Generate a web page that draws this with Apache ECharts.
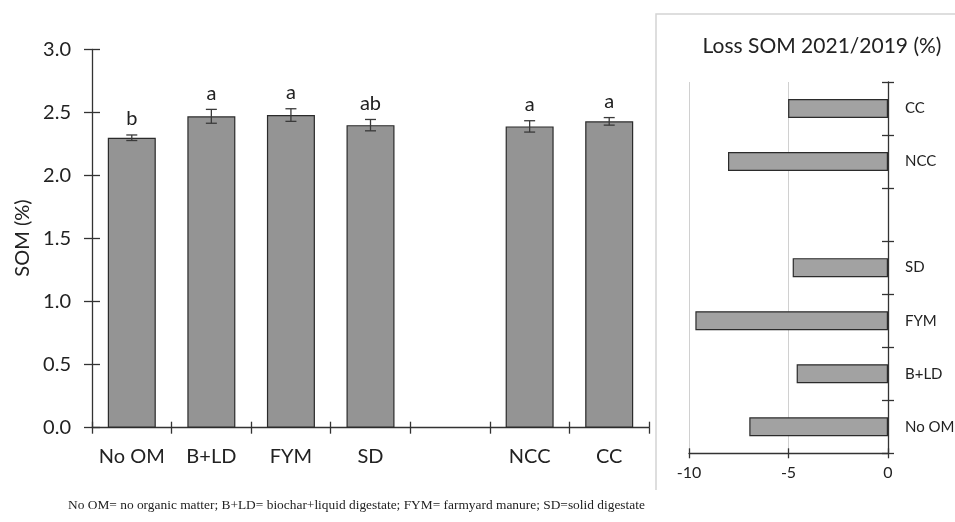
<!DOCTYPE html>
<html><head><meta charset="utf-8">
<script src="https://cdn.jsdelivr.net/npm/echarts@6/dist/echarts.min.js"></script>
<style>html,body{margin:0;padding:0;background:#fff}#c{width:955px;height:522px}</style>
</head><body><div id="c"></div>
<script>
var categories = ['No OM', 'B+LD', 'FYM', 'SD', '', 'NCC', 'CC'];
var somValues = [2.30, 2.47, 2.48, 2.40, null, 2.39, 2.43];
var somErrors = [0.022, 0.055, 0.05, 0.045, null, 0.045, 0.03];
var letters = ['b', 'a', 'a', 'ab', '', 'a', 'a'];
var somTicks = [0, 0.5, 1.0, 1.5, 2.0, 2.5, 3.0];
var lossCategories = ['No OM', 'B+LD', 'FYM', 'SD', '', 'NCC', 'CC'];
var lossValues = [-6.97, -4.59, -9.68, -4.79, null, -8.04, -5.02];
var lossTicks = [-10, -5, 0];

var F = 'Lato, "Open Sans", sans-serif';
var axisCol = '#333';
var chart = echarts.init(document.getElementById('c'), null, {renderer: 'canvas'});

var errData = categories.map(function (c, i) {
  return somValues[i] == null ? null : [i, somValues[i], somErrors[i], letters[i]];
}).filter(function (d) { return d; });

var tickStyle = {color: axisCol, width: 1.3};
var g0 = {left: 92, top: 49.5, width: 557, height: 378.2, outerBoundsMode: 'none', containLabel: false};
var g1 = {left: 689, top: 82, width: 199, height: 371.3, outerBoundsMode: 'none', containLabel: false};

chart.setOption({
  animation: false,
  grid: [g0, g1, Object.assign({}, g0), Object.assign({}, g1)],
  title: {
    text: 'Loss SOM 2021/2019 (%)', left: 817, top: 31, textAlign: 'center',
    textStyle: {fontFamily: F, fontSize: 21, fontWeight: 'normal', color: '#222'}
  },
  graphic: [
    {type: 'polyline', shape: {points: [[656, 490], [656, 14], [960, 14]]},
     style: {stroke: '#d4d4d4', lineWidth: 1.5, fill: null}},
    {type: 'text', rotation: Math.PI / 2, x: 22.5, y: 238,
     style: {text: 'SOM (%)', font: '20px ' + F, fill: '#222', align: 'center', verticalAlign: 'middle'}},
    {type: 'text', x: 68, y: 499,
     style: {text: 'No OM= no organic matter; B+LD= biochar+liquid digestate; FYM= farmyard manure; SD=solid digestate',
       font: '13.4px "Liberation Serif", "Times New Roman", serif', fill: '#222'}}
  ],
  xAxis: [
    {gridIndex: 0, type: 'category', data: categories, position: 'bottom',
     axisLine: {show: true, onZero: false, lineStyle: tickStyle},
     axisTick: {show: true, interval: 0, length: 6, lineStyle: tickStyle},
     axisLabel: {show: true, interval: 0, margin: 19, fontFamily: F, fontSize: 20, color: '#222'}},
    {gridIndex: 1, type: 'value', min: -10, max: 0, interval: 5, position: 'bottom',
     axisLine: {show: true, onZero: false, lineStyle: tickStyle},
     axisTick: {show: true, length: 5, lineStyle: tickStyle},
     splitLine: {show: true, lineStyle: {color: '#d0d0d0', width: 1}},
     axisLabel: {show: true, margin: 12, fontFamily: F, fontSize: 16, color: '#222',
       formatter: function (v) { return lossTicks.indexOf(v) >= 0 ? String(v) : ''; }}},
    {gridIndex: 2, type: 'category', data: categories, position: 'bottom',
     axisLine: {show: false, onZero: false}, axisTick: {show: true, interval: 0, inside: true, length: 6, lineStyle: tickStyle},
     axisLabel: {show: false}},
    {gridIndex: 3, type: 'value', min: -10, max: 0, interval: 5, position: 'bottom',
     axisLine: {show: false, onZero: false}, axisTick: {show: true, inside: true, length: 5, lineStyle: tickStyle},
     splitLine: {show: false}, axisLabel: {show: false}}
  ],
  yAxis: [
    {gridIndex: 0, type: 'value', min: 0, max: 3, interval: 0.5, position: 'left',
     axisLine: {show: true, onZero: false, lineStyle: tickStyle},
     axisTick: {show: true, length: 8, lineStyle: tickStyle},
     splitLine: {show: false},
     axisLabel: {show: true, margin: 21, fontFamily: F, fontSize: 20, color: '#222',
       formatter: function (v) { return somTicks.indexOf(v) >= 0 ? v.toFixed(1) : ''; }}},
    {gridIndex: 1, type: 'category', data: lossCategories, position: 'right',
     axisLine: {show: true, onZero: false, lineStyle: tickStyle},
     axisTick: {show: true, interval: 0, length: 6, lineStyle: tickStyle},
     axisLabel: {show: true, interval: 0, margin: 17, fontFamily: F, fontSize: 15, color: '#222'}},
    {gridIndex: 2, type: 'value', min: 0, max: 3, interval: 0.5, position: 'left',
     axisLine: {show: false, onZero: false}, axisTick: {show: true, inside: true, length: 8, lineStyle: tickStyle},
     splitLine: {show: false}, axisLabel: {show: false}},
    {gridIndex: 3, type: 'category', data: lossCategories, position: 'right',
     axisLine: {show: false, onZero: false}, axisTick: {show: true, interval: 0, inside: true, length: 6, lineStyle: tickStyle},
     axisLabel: {show: false}}
  ],
  series: [
    {type: 'bar', xAxisIndex: 0, yAxisIndex: 0, data: somValues, barWidth: 48,
     itemStyle: {color: '#949494', borderColor: '#2b2b2b', borderWidth: 1.2}},
    {type: 'custom', xAxisIndex: 0, yAxisIndex: 0, data: errData, z: 5,
     renderItem: function (params, api) {
       var x = api.value(0), v = api.value(1), e = api.value(2);
       var lab = errData[params.dataIndex][3];
       var top = api.coord([x, v + e]), bot = api.coord([x, v - e]);
       var cx = top[0], hw = 5.5;
       var st = {stroke: '#3a3a3a', lineWidth: 1.3};
       return {type: 'group', children: [
         {type: 'line', shape: {x1: cx, y1: top[1], x2: cx, y2: bot[1]}, style: st},
         {type: 'line', shape: {x1: cx - hw, y1: top[1], x2: cx + hw, y2: top[1]}, style: st},
         {type: 'line', shape: {x1: cx - hw, y1: bot[1], x2: cx + hw, y2: bot[1]}, style: st},
         {type: 'text', x: cx, y: top[1] - 6,
          style: {text: lab, font: '20px ' + F, fill: '#222', align: 'center', verticalAlign: 'bottom'}}
       ]};
     }},
    {type: 'bar', xAxisIndex: 1, yAxisIndex: 1, data: lossValues, barWidth: 19,
     itemStyle: {color: '#a2a2a2', borderColor: '#2b2b2b', borderWidth: 1.2}}
  ]
});
</script></body></html>
